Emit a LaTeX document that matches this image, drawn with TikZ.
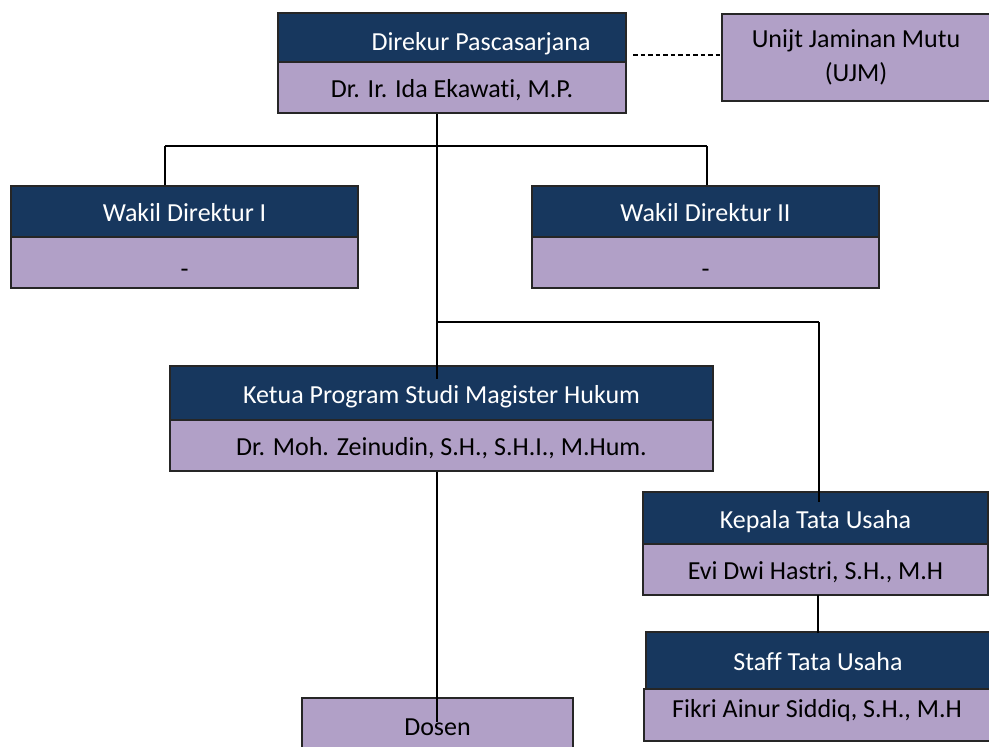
\documentclass[tikz,border=0pt]{standalone}
\usepackage{fontspec}
\setmainfont{Carlito}[Ligatures={NoCommon}]
\definecolor{navy}{RGB}{23,55,94}
\definecolor{lilac}{RGB}{177,160,199}
\tikzset{
  box/.style={draw=black!85, line width=1.2pt, rectangle, inner sep=0pt,
    font=\fontsize{26}{30}\selectfont, text height=22pt, text depth=2pt},
  hdr/.style={box, fill=navy, text=white},
  sub/.style={box, fill=lilac, text=black},
  conn/.style={line width=1.6pt, black},
  dotconn/.style={line width=1.6pt, black, dash pattern=on 4.5pt off 3pt}
}
\begin{document}
\begin{tikzpicture}[x=1pt,y=-1pt]
\useasboundingbox (0,0) rectangle (989,747);
\clip (0,0) rectangle (989,747);
% trunk coordinates
\coordinate (trunk) at (437,0);
\coordinate (j1) at (437,146);
\coordinate (j2) at (437,322);
\coordinate (w1leg) at (165,146);
\coordinate (w2leg) at (707,146);
\coordinate (kpleg) at (819,322);
% connectors behind boxes
\draw[conn] (trunk |- 0,113) -- (j1) -- (j2);
\draw[conn] (w1leg) -- (w2leg);
\draw[conn] (w1leg) -- (165,187);
\draw[conn] (w2leg) -- (707,187);
\draw[conn] (j2) -- (kpleg);
% boxes
\node[hdr, minimum width=348pt, minimum height=49pt, text height=26pt, text depth=0pt] (dirH) at (452,37.5) {\hspace*{58pt}Direkur Pascasarjana};
\node[sub, minimum width=348pt, minimum height=51pt] (dirS) at (452,87.5) {Dr. Ir. Ida Ekawati, M.P.};
\node[sub, minimum width=268pt, minimum height=87pt, text height=, text depth=, align=center,
      font=\fontsize{26}{34}\selectfont] (ujm) at (856,57.5) {Unijt Jaminan Mutu\\(UJM)};
\node[hdr, minimum width=347pt, minimum height=51pt] (w1H) at (184.5,211.5) {Wakil Direktur I};
\node[sub, minimum width=347pt, minimum height=51pt, text height=29pt, text depth=0pt] (w1S) at (184.5,262.5) {-};
\node[hdr, minimum width=347pt, minimum height=51pt] (w2H) at (705.5,211.5) {Wakil Direktur II};
\node[sub, minimum width=347pt, minimum height=51pt, text height=29pt, text depth=0pt] (w2S) at (705.5,262.5) {-};
\node[hdr, minimum width=543pt, minimum height=54pt] (ktH) at (441.5,393) {Ketua Program Studi Magister Hukum};
\node[sub, minimum width=543pt, minimum height=51pt] (ktS) at (441.5,445.5) {Dr. Moh. Zeinudin, S.H., S.H.I., M.Hum.};
\node[hdr, minimum width=345pt, minimum height=52pt] (kpH) at (815.5,518) {Kepala Tata Usaha};
\node[sub, minimum width=345pt, minimum height=51pt] (kpS) at (815.5,569.5) {Evi Dwi Hastri, S.H., M.H};
\node[hdr, minimum width=344pt, minimum height=57pt] (stH) at (818,660.5) {Staff Tata Usaha};
\node[sub, minimum width=346pt, minimum height=52pt, text height=12pt, text depth=8pt] (stS) at (817,715) {Fikri Ainur Siddiq, S.H., M.H};
\node[sub, minimum width=271pt, minimum height=62pt, text height=18pt, text depth=6pt] (dosen) at (437.5,729) {Dosen};
% connectors drawn over boxes
\draw[conn] (j2) -- (trunk |- 0,379);
\draw[conn] (kpleg) -- (kpleg |- 0,502);
\draw[conn] (trunk |- ktS.south) -- (trunk |- 0,722);
\draw[conn] (818,595) -- (818,633);
\draw[dotconn] (633,55) -- (ujm.west |- 0,55);
\end{tikzpicture}
\end{document}
